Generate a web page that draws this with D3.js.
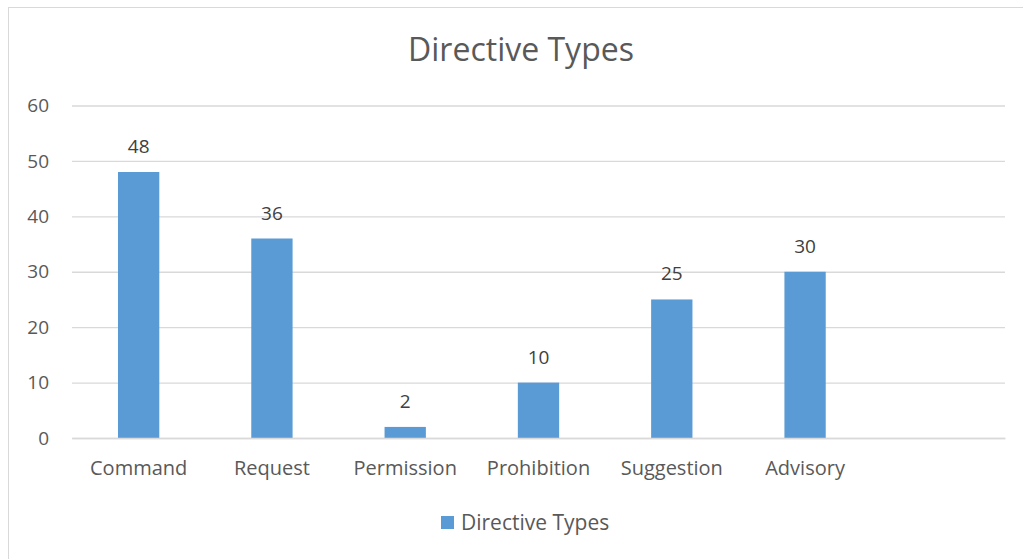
<!DOCTYPE html>
<html>
<head>
<meta charset="utf-8">
<script src="https://cdn.jsdelivr.net/npm/d3@7"></script>
<style>
  body { margin: 0; background: #fff; }
  svg { font-family: "Open Sans", sans-serif; }
</style>
</head>
<body>
<div id="chart"></div>
<script>
// chart data
const categories = ["Command", "Request", "Permission", "Prohibition", "Suggestion", "Advisory", ""];
const values = [48, 36, 2, 10, 25, 30, null];
const yTicks = [0, 10, 20, 30, 40, 50, 60];
const seriesName = "Directive Types";
const chartTitle = "Directive Types";

const width = 1023, height = 559;
const plot = { left: 72, right: 1005, top: 105.5, bottom: 438 };
const barColor = "#5b9bd5";
const textColor = "#595959";
const font = "'Open Sans', sans-serif";

const svg = d3.select("#chart").append("svg")
    .attr("width", width)
    .attr("height", height);

// outer chart border
svg.append("rect")
    .attr("x", 8.5).attr("y", 7.5)
    .attr("width", 1030).attr("height", 560)
    .attr("fill", "#fff")
    .attr("stroke", "#d9d9d9");

// scales
const x = d3.scaleBand()
    .domain(categories.map((d, i) => i))
    .range([plot.left, plot.right])
    .paddingInner(0.69)
    .paddingOuter(0.345);
const y = d3.scaleLinear()
    .domain([0, 60])
    .range([plot.bottom, plot.top]);

// gridlines + y labels
const yAxis = svg.append("g")
    .attr("transform", `translate(${plot.left},0)`)
    .call(d3.axisLeft(y).tickValues(yTicks).tickSize(-(plot.right - plot.left)).tickPadding(23))
    .attr("font-family", font);
yAxis.select(".domain").remove();
yAxis.selectAll(".tick line").attr("stroke", "#d9d9d9").attr("stroke-width", 1.3);
yAxis.selectAll(".tick text")
    .attr("fill", textColor)
    .style("font-size", "19px");

// bars
const idx = values.map((v, i) => i).filter(i => values[i] != null);
svg.selectAll("rect.bar")
    .data(idx)
    .enter().append("rect")
    .attr("class", "bar")
    .attr("x", i => x(i))
    .attr("y", i => y(values[i]))
    .attr("width", x.bandwidth())
    .attr("height", i => y(0) - y(values[i]))
    .attr("fill", barColor);

// data labels
svg.selectAll("text.lbl")
    .data(idx)
    .enter().append("text")
    .attr("class", "lbl")
    .attr("x", i => x(i) + x.bandwidth() / 2)
    .attr("y", i => y(values[i]) - 19)
    .attr("text-anchor", "middle")
    .attr("fill", "#404040")
    .style("font-size", "19px")
    .text(i => values[i]);

// x axis baseline + category labels
const xAxis = svg.append("g")
    .attr("transform", `translate(0,${plot.bottom})`)
    .call(d3.axisBottom(x).tickSize(0).tickPadding(23).tickFormat(i => categories[i]))
    .attr("font-family", font);
xAxis.select(".domain").attr("stroke", "#d9d9d9").attr("stroke-width", 1.3);
xAxis.selectAll(".tick text")
    .attr("fill", textColor)
    .style("font-size", "20px");

// title
svg.append("text")
    .attr("x", 521).attr("y", 61)
    .attr("text-anchor", "middle")
    .attr("fill", textColor)
    .style("font-size", "32px")
    .text(chartTitle);

// legend
const legend = svg.append("g").attr("transform", "translate(441,516)");
legend.append("rect")
    .attr("width", 13).attr("height", 13)
    .attr("fill", barColor);
legend.append("text")
    .attr("x", 20).attr("y", 14)
    .attr("fill", textColor)
    .style("font-size", "21px")
    .text(seriesName);
</script>
</body>
</html>
